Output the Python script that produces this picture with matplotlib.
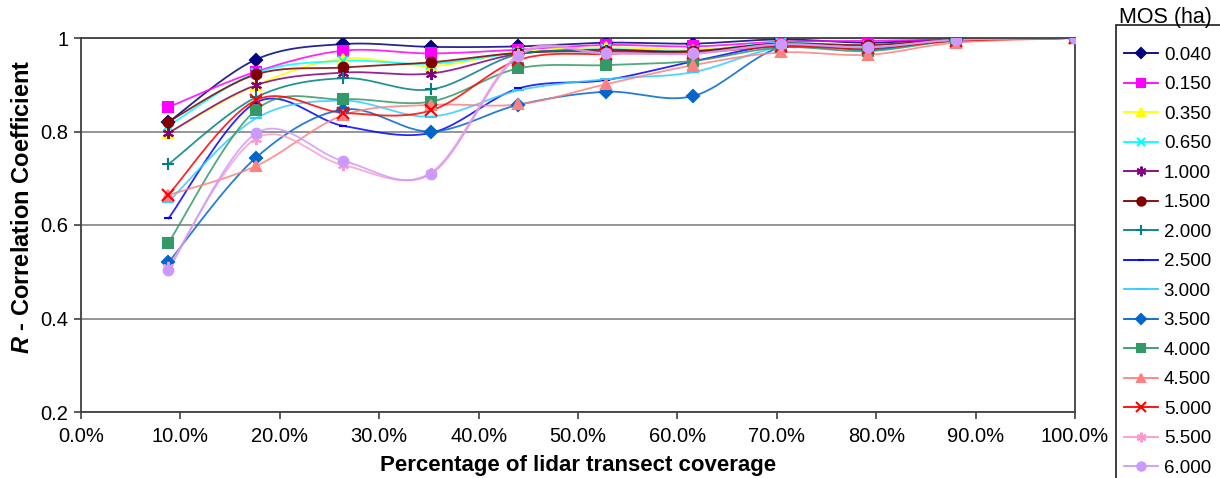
import numpy as np
import matplotlib
matplotlib.use("Agg")
import matplotlib.pyplot as plt
from matplotlib.lines import Line2D
from matplotlib.patches import Rectangle

plt.rcParams['font.family'] = ['Liberation Sans', 'DejaVu Sans']
plt.rcParams['mathtext.fontset'] = 'custom'
plt.rcParams['mathtext.bfit'] = 'Liberation Sans:bold:italic'

# coverage (%) of the lidar transects
coverage = [8.8, 17.6, 26.4, 35.2, 44.0, 52.8, 61.6, 70.4, 79.2, 88.0, 100.0]

mos_labels = ["0.040", "0.150", "0.350", "0.650", "1.000", "1.500", "2.000", "2.500",
              "3.000", "3.500", "4.000", "4.500", "5.000", "5.500", "6.000"]

r_040 = [0.820, 0.954, 0.987, 0.981, 0.982, 0.990, 0.988, 0.997, 0.990, 0.998, 1.0]
r_150 = [0.852, 0.928, 0.973, 0.967, 0.975, 0.985, 0.982, 0.992, 0.994, 0.997, 1.0]
r_350 = [0.797, 0.899, 0.956, 0.940, 0.970, 0.980, 0.975, 0.988, 0.980, 0.995, 1.0]
r_650 = [0.812, 0.925, 0.951, 0.945, 0.968, 0.976, 0.972, 0.990, 0.982, 0.996, 1.0]
r_1000 = [0.797, 0.899, 0.926, 0.924, 0.966, 0.975, 0.970, 0.988, 0.978, 0.996, 1.0]
r_1500 = [0.821, 0.922, 0.937, 0.948, 0.968, 0.972, 0.972, 0.988, 0.985, 0.996, 1.0]
r_2000 = [0.730, 0.873, 0.914, 0.890, 0.965, 0.970, 0.968, 0.985, 0.978, 0.995, 1.0]
r_2500 = [0.614, 0.862, 0.812, 0.797, 0.892, 0.910, 0.950, 0.985, 0.978, 0.995, 1.0]
r_3000 = [0.650, 0.828, 0.866, 0.832, 0.888, 0.912, 0.927, 0.980, 0.975, 0.995, 1.0]
r_3500 = [0.520, 0.744, 0.847, 0.800, 0.857, 0.885, 0.876, 0.980, 0.975, 0.995, 1.0]
r_4000 = [0.562, 0.846, 0.869, 0.864, 0.935, 0.942, 0.951, 0.980, 0.972, 0.994, 1.0]
r_4500 = [0.664, 0.726, 0.835, 0.857, 0.858, 0.901, 0.942, 0.969, 0.964, 0.990, 1.0]
r_5000 = [0.665, 0.867, 0.840, 0.845, 0.953, 0.966, 0.968, 0.982, 0.978, 0.994, 1.0]
r_5500 = [0.510, 0.785, 0.728, 0.712, 0.965, 0.968, 0.966, 0.986, 0.980, 0.996, 1.0]
r_6000 = [0.504, 0.796, 0.737, 0.709, 0.961, 0.967, 0.967, 0.987, 0.980, 0.996, 1.0]

series = [r_040, r_150, r_350, r_650, r_1000, r_1500, r_2000, r_2500,
          r_3000, r_3500, r_4000, r_4500, r_5000, r_5500, r_6000]

colors = ["#000080", "#FF00FF", "#FFFF00", "#00FFFF", "#800080", "#800000", "#008080",
          "#0000FF", "#33CCFF", "#0066CC", "#339966", "#FF8080", "#FF0000", "#FF99CC",
          "#CC99FF"]
star = (6, 2, 0)
markers = ["D", "s", "^", "x", star, "o", "+", "_", "_", "D", "s", "^", "x", star, "o"]
msizes = [6, 7, 7, 7, 8, 7, 8, 6, 9, 6, 7, 7, 8, 8, 7]


def smooth(xs, ys, n=24):
    """Bezier smoothing through every point, like a spreadsheet 'smoothed line'"""
    pts = np.column_stack([xs, ys])
    p = np.vstack([pts[0], pts, pts[-1]])
    t = np.linspace(0, 1, n)[:, None]
    out = []
    for i in range(1, len(p) - 2):
        p0, p1, p2, p3 = p[i - 1], p[i], p[i + 1], p[i + 2]
        c1 = p1 + (p2 - p0) / 6
        c2 = p2 - (p3 - p1) / 6
        seg = (1 - t) ** 3 * p1 + 3 * (1 - t) ** 2 * t * c1 + 3 * (1 - t) * t ** 2 * c2 + t ** 3 * p2
        out.append(seg if i == 1 else seg[1:])
    out = np.vstack(out)
    return out[:, 0], out[:, 1]


fig = plt.figure(figsize=(12.2, 4.78), dpi=100)
ax = fig.add_axes([81 / 1220, 1 - 412 / 478, (1075 - 81) / 1220, (412 - 38) / 478])

handles = []
for vals, col, mk, ms, lab in zip(series, colors, markers, msizes, mos_labels):
    sx, sy = smooth(coverage, vals)
    ax.plot(sx, sy, color=col, lw=1.3, alpha=0.85, zorder=2)
    ax.plot(coverage, vals, ls="none", marker=mk, ms=ms, color=col,
            mec=col, mew=1.5, zorder=3)
    handles.append(Line2D([], [], color=col, lw=1.3, marker=mk, ms=ms - 1,
                          mec=col, mew=1.5, label=lab))

ax.set_xlim(0, 100)
ax.set_ylim(0.2, 1.0)
ax.set_xticks(np.arange(0, 101, 10))
ax.set_xticklabels([f"{v:.1f}%" for v in np.arange(0, 101, 10)], fontsize=14.5)
ax.set_yticks([0.2, 0.4, 0.6, 0.8, 1.0])
ax.set_yticklabels(["0.2", "0.4", "0.6", "0.8", "1"], fontsize=14.5)
ax.yaxis.grid(True, color="#8c8c8c", lw=1.3)
ax.set_axisbelow(True)
for s in ax.spines.values():
    s.set_color("#404040")
    s.set_linewidth(1.3)
ax.tick_params(direction="out", length=5, width=1.2, color="#404040", pad=4)
ax.tick_params(axis="x", pad=6)

ax.set_xlabel("Percentage of lidar transect coverage", fontsize=16, fontweight="bold")
ax.xaxis.set_label_coords(0.5, -0.115)
ax.set_ylabel(r"$\mathbfit{R}$ - Correlation Coefficient", fontsize=17, fontweight="bold")
ax.yaxis.set_label_coords(-0.047, 0.55)

# legend entries without a frame, box drawn separately so it can run off the edge
leg = fig.legend(handles=handles, loc="upper left", bbox_to_anchor=(1116 / 1220, 1 - 39 / 478),
                 fontsize=13.5, frameon=False, handlelength=1.85, handletextpad=0.3,
                 labelspacing=0.66, borderpad=0.4, borderaxespad=0)
fig.patches.append(Rectangle((1116 / 1220, -0.05), 0.2, 1.05 - 25 / 478,
                             transform=fig.transFigure, fill=False, ec="#303030", lw=1.3))
fig.text(1165 / 1220, 1 - 18 / 478, "MOS (ha)", fontsize=15.5, ha="center", va="center")

fig.savefig("out.png", dpi=100)
